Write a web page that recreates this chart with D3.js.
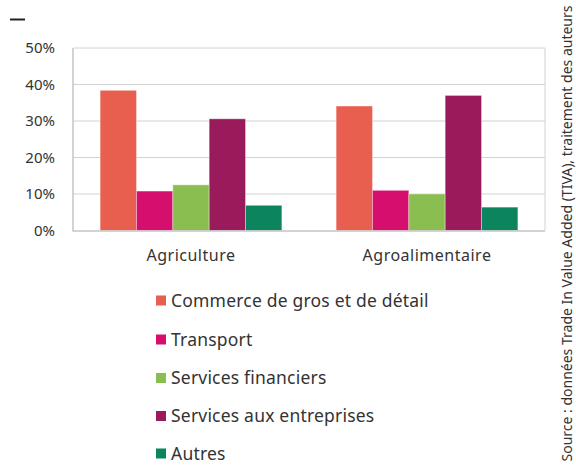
<!DOCTYPE html>
<html><head><meta charset="utf-8">
<script src="https://cdn.jsdelivr.net/npm/d3@7"></script>
<style>body{margin:0;background:#fff}svg{display:block}</style>
</head><body>
<script>
const categories = ["Agriculture", "Agroalimentaire"];
const seriesNames = ["Commerce de gros et de détail", "Transport", "Services financiers", "Services aux entreprises", "Autres"];
const commerce = [38.4, 34.1];
const transport = [10.8, 11.0];
const financiers = [12.5, 10.0];
const servicesEntreprises = [30.6, 37.0];
const autres = [6.9, 6.4];
const yTicks = [0, 10, 20, 30, 40, 50];
const colors = ["#E95F4F", "#D60F6E", "#8BBE50", "#991B5B", "#0C855E"];
const sourceText = "Source : données Trade In Value Added (TIVA), traitement des auteurs";

const values = [commerce, transport, financiers, servicesEntreprises, autres];
const W = 576, H = 467;
const font = "'Noto Sans', 'Open Sans', sans-serif";
const svg = d3.select("body").append("svg").attr("width", W).attr("height", H);

const pL = 73, pR = 545, pT = 48, pB = 230.5;
const x0 = d3.scaleBand().domain(categories).range([pL, pR]).paddingInner(0.23).paddingOuter(0.115);
const x1 = d3.scaleBand().domain(seriesNames).range([0, x0.bandwidth()]);
const y = d3.scaleLinear().domain([0, 50]).range([pB, pT]);

// gridlines
svg.append("g").selectAll("line").data(yTicks.filter(t => t > 0)).join("line")
  .attr("x1", pL).attr("x2", pR).attr("y1", d => y(d)).attr("y2", d => y(d))
  .attr("stroke", "#d2d2d2").attr("stroke-width", 1);
// right border
svg.append("line").attr("x1", pR).attr("x2", pR).attr("y1", pT).attr("y2", pB)
  .attr("stroke", "#d2d2d2").attr("stroke-width", 1);

// bars
const g = svg.append("g");
categories.forEach((c, ci) => {
  seriesNames.forEach((s, si) => {
    g.append("rect")
      .attr("x", x0(c) + x1(s)).attr("width", x1.bandwidth())
      .attr("y", y(values[si][ci])).attr("height", y(0) - y(values[si][ci]))
      .attr("fill", colors[si]).attr("stroke", "rgba(255,255,255,0.35)").attr("stroke-width", 1);
  });
});

// axes lines
svg.append("line").attr("x1", pL).attr("x2", pL).attr("y1", pT).attr("y2", pB + 1)
  .attr("stroke", "#c4c4c4").attr("stroke-width", 1.5);
svg.append("line").attr("x1", pL).attr("x2", pR).attr("y1", pB + 0.5).attr("y2", pB + 0.5)
  .attr("stroke", "#c4c4c4").attr("stroke-width", 1.5);

// y tick labels
svg.append("g").selectAll("text").data(yTicks).join("text")
  .attr("x", 55).attr("y", d => y(d)).attr("dy", "0.35em").attr("text-anchor", "end")
  .attr("font-family", font).attr("font-size", 15).attr("fill", "#333")
  .text(d => d + "%");

// category labels
svg.append("g").selectAll("text").data(categories).join("text")
  .attr("x", d => x0(d) + x0.bandwidth() / 2).attr("y", 255).attr("dy", "0.35em").attr("text-anchor", "middle")
  .attr("font-family", font).attr("font-size", 16).attr("letter-spacing", 0.5).attr("fill", "#333")
  .text(d => d);

// top-left dash
svg.append("line").attr("x1", 10).attr("x2", 25).attr("y1", 19.5).attr("y2", 19.5)
  .attr("stroke", "#222").attr("stroke-width", 2);

// legend
const legY = [300.5, 339.5, 378, 416, 453.5];
const leg = svg.append("g");
seriesNames.forEach((s, i) => {
  leg.append("rect").attr("x", 156).attr("y", legY[i] - 5).attr("width", 10).attr("height", 10).attr("fill", colors[i]);
  leg.append("text").attr("x", 171).attr("y", legY[i]).attr("dy", "0.35em")
    .attr("font-family", font).attr("font-size", 17.5).attr("letter-spacing", 0.2).attr("fill", "#333").text(s);
});

// source
svg.append("text").attr("transform", "translate(567,233.5) rotate(-90)")
  .attr("text-anchor", "middle").attr("dy", "0.35em")
  .attr("font-family", font).attr("font-size", 14).attr("fill", "#333")
  .attr("textLength", 456).attr("lengthAdjust", "spacingAndGlyphs").text(sourceText);
</script>
</body></html>
